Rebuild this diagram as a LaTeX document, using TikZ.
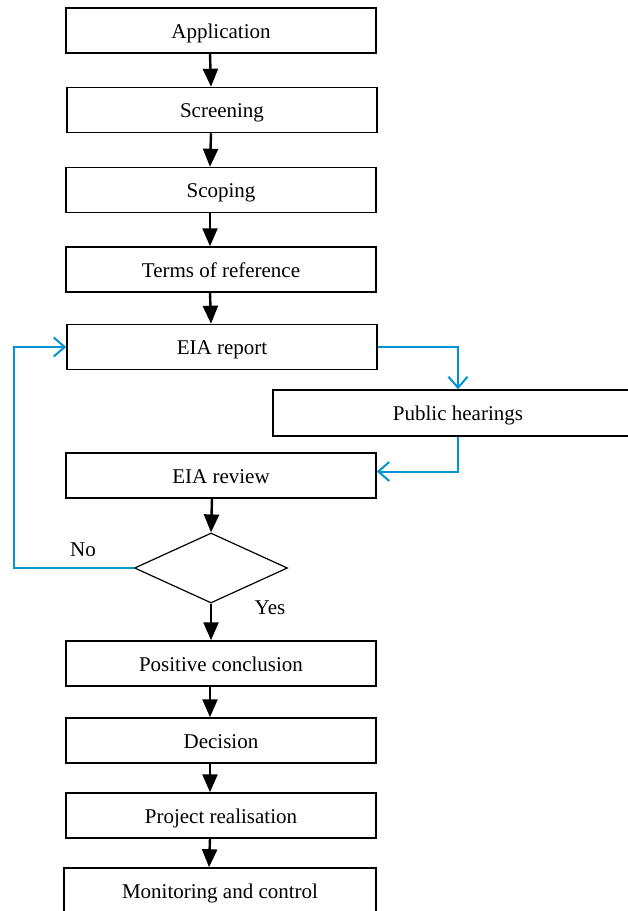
\documentclass[tikz,border=0pt]{standalone}
\usepackage{fontspec}
\setmainfont{Liberation Serif}
\usetikzlibrary{arrows.meta}
\usetikzlibrary{shapes.geometric}
\definecolor{hellblau}{RGB}{0,148,208}
\tikzset{
    kasten/.style={draw, line width=1.5pt, minimum width=310pt, minimum height=45pt, inner sep=0pt,
        text height=15pt, text depth=0pt},
    pfeil/.style={line width=2.4pt, -{Triangle[width=15pt,length=18pt]}},
    rueck/.style={hellblau, line width=2pt, -{Straight Barb[width=19pt,length=11pt,line width=2pt]}},
}

\begin{document}
\begin{tikzpicture}[x=1pt,y=-1pt,font=\fontsize{21}{25}\selectfont]
        \useasboundingbox (0,0) rectangle (628,911);
        % Schritte
        \node[kasten] (antrag) at (221,30.5) {Application};
        \node[kasten] (screening) at (222,110) {Screening};
        \node[kasten] (scoping) at (221,190) {Scoping};
        \node[kasten] (tor) at (221,269.5) {Terms of reference};
        \node[kasten] (bericht) at (222,347) {EIA report};
        \node[kasten, minimum width=370pt, minimum height=46pt] (anhoerung) at (458,413) {Public hearings};
        \node[kasten] (review) at (221,475.5) {EIA review};
        \node[draw, line width=1.2pt, diamond, aspect=2.19, minimum width=153pt, minimum height=70pt, inner sep=0pt] (dia) at (211,568) {};
        \node[kasten] (positiv) at (221,663.5) {Positive conclusion};
        \node[kasten] (entscheidung) at (221,740.5) {Decision};
        \node[kasten] (realisierung) at (221,815.5) {Project realisation};
        \node[kasten, minimum width=312pt, minimum height=46pt] (monitoring) at (220,891) {Monitoring and control};
        % Beschriftungen Ja und Nein
        \node (nein) at (83,550) {No};
        \node (ja) at (270,608) {Yes};
        % Pfeile
        \foreach \a/\b in {antrag/screening, screening/scoping, scoping/tor, tor/bericht,
            positiv/entscheidung, entscheidung/realisierung, realisierung/monitoring}
            \draw[pfeil] ([xshift=-11pt]\a.south) -- ([xshift=-11pt]\b.north);
        \draw[pfeil] ([xshift=-9pt]review.south) -- (dia.north);
        \draw[pfeil] (dia.south) -- ([xshift=-10pt]positiv.north);
        % Rueckfuehrung und Anhoerung
        \coordinate (knick) at (14,347);
        \draw[rueck] (bericht.east) -| (anhoerung.north);
        \draw[rueck] (anhoerung.south) |- ([yshift=4pt]review.east);
        \draw[rueck] (dia.west) -| (knick) -- (bericht.west);
    \end{tikzpicture}
\end{document}
